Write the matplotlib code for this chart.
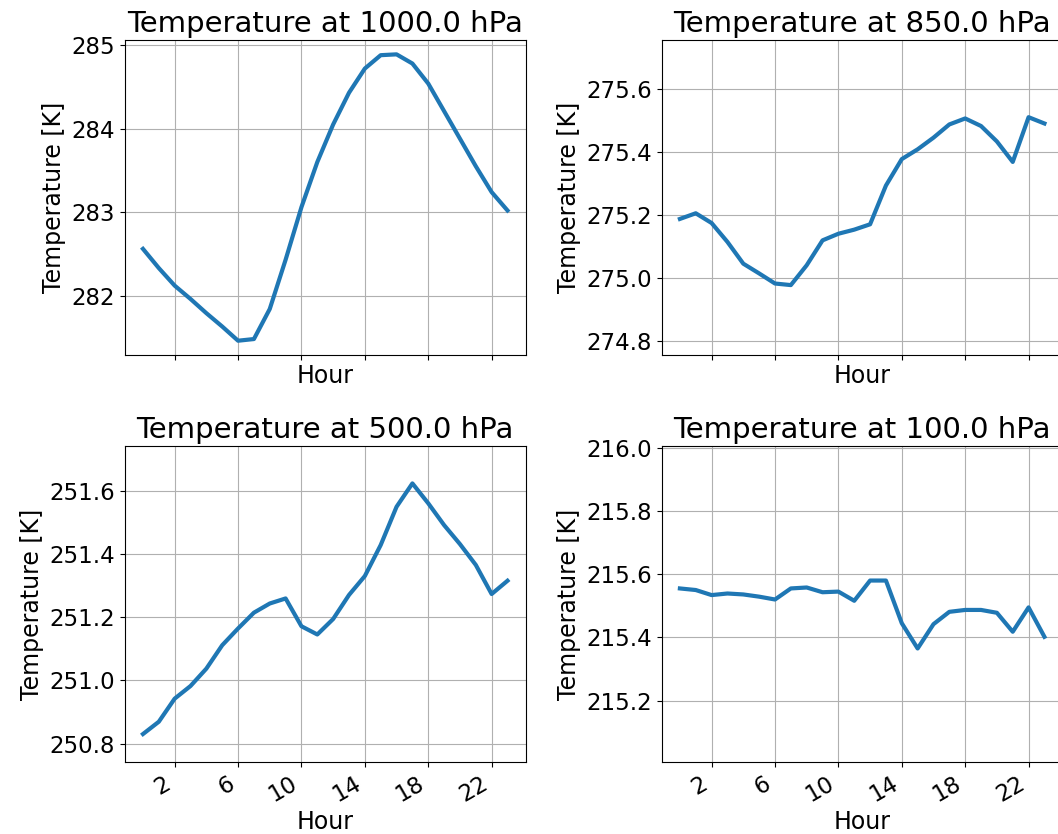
import numpy as np
import matplotlib
matplotlib.use("Agg")
import matplotlib.pyplot as plt

hours = list(range(24))
levels = [1000.0, 850.0, 500.0, 100.0]

t_1000 = [282.56, 282.33, 282.12, 281.96, 281.79, 281.63, 281.46, 281.48,
          281.84, 282.43, 283.06, 283.60, 284.05, 284.43, 284.72, 284.88,
          284.89, 284.78, 284.54, 284.21, 283.88, 283.55, 283.24, 283.02]
t_850 = [275.187, 275.205, 275.174, 275.114, 275.045, 275.014, 274.982, 274.977,
         275.040, 275.119, 275.140, 275.153, 275.170, 275.293, 275.377, 275.408,
         275.445, 275.487, 275.506, 275.482, 275.433, 275.368, 275.510, 275.490]
t_500 = [250.830, 250.869, 250.942, 250.982, 251.037, 251.111, 251.164, 251.214,
         251.243, 251.259, 251.171, 251.145, 251.194, 251.270, 251.330, 251.428,
         251.549, 251.623, 251.560, 251.491, 251.431, 251.365, 251.273, 251.315]
t_100 = [215.555, 215.550, 215.534, 215.539, 215.536, 215.529, 215.520, 215.555,
         215.558, 215.543, 215.545, 215.516, 215.580, 215.580, 215.445, 215.365,
         215.442, 215.481, 215.487, 215.487, 215.478, 215.418, 215.495, 215.402]

series = [t_1000, t_850, t_500, t_100]
xticks = [2, 6, 10, 14, 18, 22]

fig = plt.figure(figsize=(10.58, 8.34), dpi=100)
positions = [
    [0.1179, 0.5743, 0.379, 0.3777],
    [0.6254, 0.5743, 0.379, 0.3777],
    [0.1179, 0.0863, 0.379, 0.3790],
    [0.6254, 0.0863, 0.379, 0.3790],
]

for i, (lev, temps) in enumerate(zip(levels, series)):
    ax = fig.add_axes(positions[i])
    ax.plot(hours, temps, color="#1f77b4", linewidth=3)
    ax.set_title(f"Temperature at {lev} hPa", fontsize=21)
    ax.set_xlabel("Hour", fontsize=17, labelpad=3)
    ax.set_ylabel("Temperature [K]", fontsize=17)
    ax.set_xticks(xticks)
    ax.tick_params(labelsize=16.5)
    ax.grid(True)
    # small-range levels are shown as mean +/- 0.5 K
    if max(temps) - min(temps) < 1.0:
        m = np.mean(temps)
        ax.set_ylim(m - 0.5, m + 0.5)
    if i < 2:
        ax.tick_params(labelbottom=False)
    else:
        for lab in ax.get_xticklabels():
            lab.set_rotation(30)
            lab.set_ha("right")

fig.savefig("out.png", dpi=100)
